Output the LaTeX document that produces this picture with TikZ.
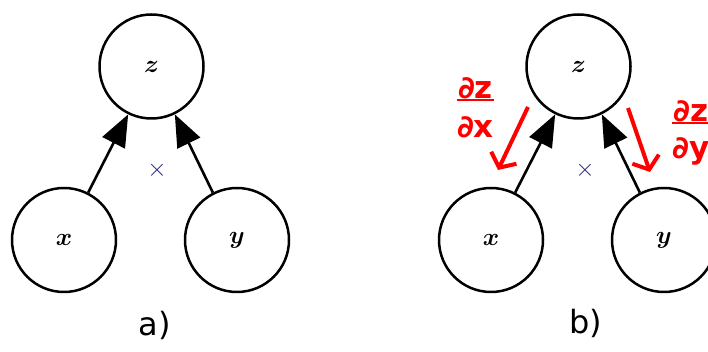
\documentclass[tikz,border=0pt]{standalone}
\usepackage{fontspec}
\setsansfont{DejaVu Sans}
\usetikzlibrary{arrows.meta}
\begin{document}
\begin{tikzpicture}[x=1pt, y=1pt,
    var/.style={circle, draw, line width=2.5pt, minimum size=104pt, inner sep=0pt,
        font=\fontsize{26}{28}\selectfont\boldmath},
    fwd/.style={line width=2.6pt, -{Triangle[length=32pt, width=25pt]}},
    grad/.style={red, line width=4pt, -{Straight Barb[length=11pt, width=28pt]}},
    gradtxt/.style={red, inner sep=1pt, font=\sffamily\bfseries\fontsize{31}{34}\selectfont},
    panel/.style={font=\sffamily\fontsize{32}{36}\selectfont},
    op/.style={text=blue!35!darkgray, font=\fontsize{28}{30}\selectfont}]
    \useasboundingbox (0,0) rectangle (708,352);

    % a) forward pass
    \begin{scope}
        \node[var] (za) at (151.5,285.5) {$z$};
        \node[var] (xa) at (64,112) {$x$};
        \node[var] (ya) at (237,112) {$y$};
        \draw[fwd] (xa.63) -- (za.244);
        \draw[fwd] (ya.117) -- (za.296);
        \node[op] (opa) at (157,182) {$\times$};
        \node[panel] (la) at (155,27) {a)};
    \end{scope}

    % b) backward pass
    \begin{scope}[shift={(427,0)}]
        \node[var] (zb) at (151.5,285.5) {$z$};
        \node[var] (xb) at (64,112) {$x$};
        \node[var] (yb) at (237,112) {$y$};
        \draw[fwd] (xb.63) -- (zb.244);
        \draw[fwd] (yb.117) -- (zb.296);
        \node[op] (opb) at (158,182) {$\times$};
        \node[panel] (lb) at (159,29) {b)};

        \coordinate (gxs) at (101,245);
        \coordinate (gxe) at (71,182);
        \coordinate (gys) at (201,244);
        \coordinate (gye) at (223,180);
        \draw[grad] (gxs) -- (gxe);
        \draw[grad] (gys) -- (gye);

        \node[gradtxt] (dzx) at (48.5,264) {∂z};
        \draw[red, line width=2pt] (dzx.south west) -- (dzx.south east);
        \node[gradtxt] (dx) at (48.5,225) {∂x};
        \node[gradtxt] (dzy) at (264,241) {∂z};
        \draw[red, line width=2pt] (dzy.south west) -- (dzy.south east);
        \node[gradtxt] (dy) at (264,201) {∂y};
    \end{scope}
\end{tikzpicture}
\end{document}
